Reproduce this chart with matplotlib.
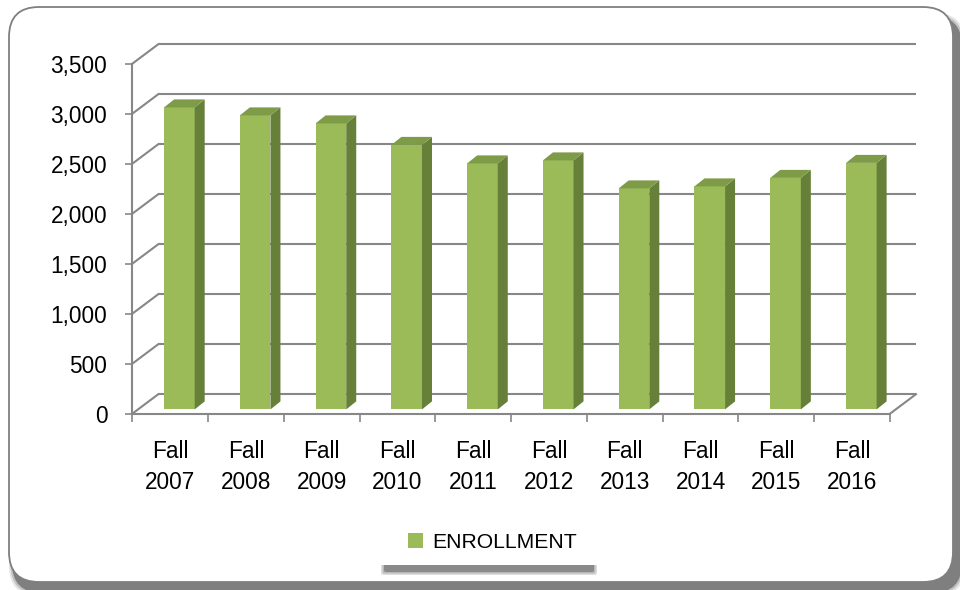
import matplotlib
matplotlib.use("Agg")
import matplotlib.pyplot as plt
from matplotlib.patches import FancyBboxPatch, Polygon, Rectangle
import numpy as np

# data
terms = ["Fall\n2007", "Fall\n2008", "Fall\n2009", "Fall\n2010", "Fall\n2011",
         "Fall\n2012", "Fall\n2013", "Fall\n2014", "Fall\n2015", "Fall\n2016"]
enrollment = [3020, 2940, 2860, 2645, 2460, 2490, 2210, 2230, 2315, 2465]
y_ticks = [0, 500, 1000, 1500, 2000, 2500, 3000, 3500]
series_name = "ENROLLMENT"

plt.rcParams['font.family'] = ['Liberation Sans', 'DejaVu Sans']

W, H = 960, 590
GRID = "#878787"
FRONT = "#9BBB59"
SIDE = "#66803A"
TOP = "#7E9B48"

fig = plt.figure(figsize=(W / 100, H / 100), dpi=100)

# --- background: rounded chart frame with drop shadow, legend shadow ---
bg = fig.add_axes([0, 0, 1, 1], zorder=0)
bg.set_xlim(0, W)
bg.set_ylim(0, H)
bg.axis("off")


def px_box(x0, y0, x1, y1, **kw):
    # pixel coords measured from top-left
    return FancyBboxPatch((x0, H - y1), x1 - x0, y1 - y0, **kw)


for grow, a in [(3, 0.2), (1.5, 0.35), (0, 1.0)]:
    bg.add_patch(px_box(12 - grow, 16 - grow, 962 + grow, 593 + grow,
                        boxstyle="round,pad=0,rounding_size=30",
                        fc="#7f7f7f", ec="none", alpha=a))
bg.add_patch(px_box(9, 7, 953, 582, boxstyle="round,pad=0,rounding_size=30",
                    fc="white", ec="#7f7f7f", lw=1.3))

for grow, a in [(3, 0.25), (1.5, 0.4), (0, 0.8)]:
    bg.add_patch(px_box(384 - grow, 530 - grow, 594 + grow, 572 + grow,
                        boxstyle="round,pad=0,rounding_size=2",
                        fc="#7f7f7f", ec="none", alpha=a))
bg.add_patch(Rectangle((381, H - 565), 216, 40, fc="white", ec="none"))

# --- plot area (front plane: categories 0..10, values 0..3500) ---
cat_px = 75.77
val_px = 0.1
depth_x = 26 / cat_px
depth_y = 195
x0_px, y0_px = 132.3, 413.7

ax = fig.add_axes([x0_px / W, (H - y0_px) / H,
                   (10 + depth_x) * cat_px / W, (3500 + depth_y) * val_px / H],
                  zorder=1)
ax.set_xlim(0, 10 + depth_x)
ax.set_ylim(0, 3500 + depth_y)
ax.patch.set_alpha(0)

# back wall gridlines and side wall diagonals
for v in y_ticks:
    ax.plot([depth_x, 10 + depth_x], [v + depth_y] * 2, color=GRID, lw=1.5,
            zorder=1, clip_on=False, solid_capstyle="butt")
    ax.plot([0, depth_x], [v, v + depth_y], color=GRID, lw=1.5, zorder=1,
            clip_on=False)
ax.plot([10, 10 + depth_x], [0, depth_y], color=GRID, lw=1.5, zorder=1,
        clip_on=False)

# 3-d columns: front face by ax.bar, side and top faces as polygons
n = len(enrollment)
bar_x = np.arange(n) + 0.5 + 9.2 / cat_px
bar_w = 30.6 / cat_px
base = 43
ddx, ddy = 10 / cat_px, 80
bars = ax.bar(bar_x, enrollment, bar_w, bottom=base, color=FRONT, zorder=3,
              label=series_name)
for xc, v in zip(bar_x, enrollment):
    xl, xr, top = xc - bar_w / 2, xc + bar_w / 2, base + v
    ax.add_patch(Polygon([(xr, base), (xr + ddx, base + ddy),
                          (xr + ddx, top + ddy), (xr, top)],
                         closed=True, fc=SIDE, ec="none", zorder=3))
    ax.add_patch(Polygon([(xl, top), (xr, top), (xr + ddx, top + ddy),
                          (xl + ddx, top + ddy)],
                         closed=True, fc=TOP, ec="none", zorder=3))

# front axes
for side in ["top", "right"]:
    ax.spines[side].set_visible(False)
ax.spines["left"].set_bounds(0, 3500)
ax.spines["bottom"].set_bounds(0, 10)
for side in ["left", "bottom"]:
    ax.spines[side].set_color(GRID)
    ax.spines[side].set_linewidth(1.5)
    ax.spines[side].set_zorder(4)

ax.set_yticks(y_ticks)
ax.set_yticklabels([f"{v:,}" for v in y_ticks])
ax.set_xticks(range(n + 1))
ax.set_xticklabels([])
ax.set_xticks(np.arange(n) + 0.5, minor=True)
ax.set_xticklabels(terms, minor=True, linespacing=1.45)
ax.tick_params(axis="y", length=5, width=1.2, color=GRID, pad=13,
               labelsize=16.3, labelcolor="black")
ax.tick_params(axis="x", which="major", length=6, width=1.2, color=GRID)
ax.tick_params(axis="x", which="minor", length=0, pad=19, labelsize=16.3,
               labelcolor="black")

ax.legend(handles=[bars], labels=[series_name], loc="center left",
          bbox_to_anchor=(408 / W, 1 - 542.5 / H),
          bbox_transform=fig.transFigure, frameon=False, fontsize=15.2,
          handlelength=0.72, handleheight=0.72, handletextpad=0.42,
          borderpad=0, borderaxespad=0)

fig.savefig("out.png", dpi=100)
